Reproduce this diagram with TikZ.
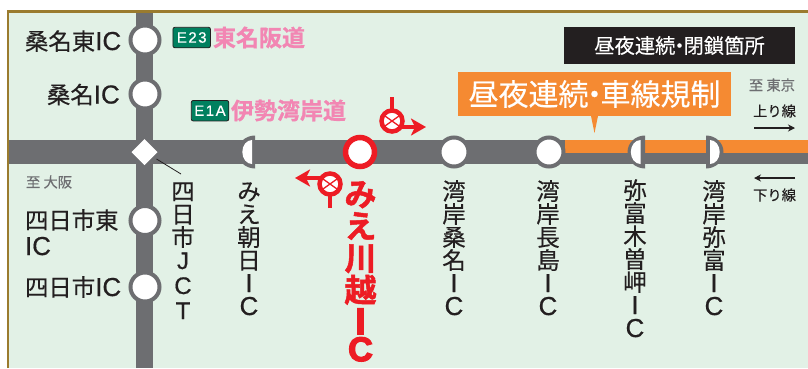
\documentclass[tikz,border=0pt]{standalone}
\usepackage{fontspec}
\setmainfont{Noto Sans CJK JP}[FakeBold=0.3]
\newfontfamily\heavyjp{Noto Sans CJK JP Bold}[FakeBold=1.0]
\newfontfamily\redjp{Noto Sans CJK JP Bold}[FakeBold=1.5]
\newfontfamily\lsans{Liberation Sans}[FakeBold=0.6]
\newfontfamily\lbold{Liberation Sans Bold}[FakeBold=4]
\usetikzlibrary{arrows.meta,shapes.geometric,calc}
\definecolor{bgg}{HTML}{E2F1E6}
\definecolor{frameb}{HTML}{9A7B2E}
\definecolor{roadg}{HTML}{6D6E71}
\definecolor{orng}{HTML}{F58A32}
\definecolor{redc}{HTML}{ED1C24}
\definecolor{pinkt}{HTML}{F286B3}
\definecolor{signg}{HTML}{00805F}
\definecolor{txtk}{HTML}{231F20}
\definecolor{txtg}{HTML}{6D6E71}
\newcommand{\latc}[1]{{\lsans\fontsize{26}{25}\selectfont #1}}
\newcommand{\vlat}[1]{{\lsans\fontsize{26}{23}\selectfont #1}}
\newcommand{\jlat}[1]{{\lsans\fontsize{24}{23}\selectfont #1}}
\newcommand{\rlat}[1]{{\lbold\fontsize{37}{31}\selectfont #1}}
\newcommand{\rlatc}[1]{{\lbold\fontsize{34}{31}\selectfont #1}}
\newcommand{\ndot}{\hspace{-.3em}・\hspace{-.3em}}
\newcommand{\noskip}{\lineskiplimit=-100pt }
\tikzset{
  every node/.style={inner sep=0pt,outer sep=0pt,text=txtk},
  road/.style={line width=24pt,roadg},
  roadv/.style={line width=17pt,roadg},
  ic/.style={circle,fill=white,draw=roadg,line width=4pt,minimum size=29pt},
  iclab/.style={font=\fontsize{23.4}{26}\selectfont\noskip,align=left},
  vlab/.style={anchor=base,align=center,font=\fontsize{23.5}{23}\selectfont\noskip},
  rlab/.style={anchor=base,align=center,text=redc,font=\redjp\fontsize{32}{32}\selectfont\noskip},
  sign/.style={draw=txtk,line width=0.8pt,rounded corners=2pt,fill=signg,text=white,minimum width=37.5pt,minimum height=20.5pt,font=\lsans\fontsize{15}{15}\selectfont},
  pinkl/.style={text=pinkt,font=\heavyjp\fontsize{23}{24}\selectfont,anchor=west},
  small/.style={font=\fontsize{14.3}{15}\selectfont},
  closure/.style={circle,draw=redc,fill=white,line width=4.5pt,minimum size=21pt},
  redline/.style={redc,line width=4pt},
  redhead/.style={redc,line width=3.4pt,-{Stealth[length=15pt,width=17pt,inset=4pt]}},
  crossx/.style={redc,line width=1.3pt},
  dirarrow/.style={txtk,line width=1.4pt,-{Stealth[length=7pt,width=7pt]}},
}
\newcommand{\halfL}[2]{% flat of ring at x=#1, flat of white part at x=#2
  \fill[roadg] (#1,135.5) arc[start angle=-90,end angle=-270,x radius=17.5,y radius=16.5] -- cycle;
  \fill[white] (#2,140) arc[start angle=-90,end angle=-270,x radius=9.7,y radius=12] -- cycle;
}
\newcommand{\halfR}[2]{% flat of ring at x=#1, flat of white part at x=#2
  \fill[roadg] (#1,135.5) arc[start angle=-90,end angle=90,x radius=17.5,y radius=16.5] -- cycle;
  \fill[white] (#2,140) arc[start angle=-90,end angle=90,x radius=9.7,y radius=12] -- cycle;
}
\begin{document}
\begin{tikzpicture}[x=1pt,y=-1pt]
\useasboundingbox (0,0) rectangle (808,368);
\fill[white] (0,0) rectangle (808,368);
\fill[bgg] (8,12) rectangle (808,368);
\draw[frameb,line width=2.6pt] (8,368) -- (8,11.5) -- (808,11.5);
% named road ends
\coordinate (wEnd) at (9,152);
\coordinate (eEnd) at (808,152);
\coordinate (nEnd) at (144.5,13);
\coordinate (sEnd) at (144.5,368);
\draw[road] (wEnd) -- (eEnd);
\draw[roadv] (nEnd) -- (sEnd);
\fill[orng] (565,140) rectangle (808,153);
% closure callout + boxes
\node[fill=orng,minimum width=273pt,minimum height=44pt,anchor=north west,text=white,font=\fontsize{30}{31}\selectfont] (rbox) at (458,72) {昼夜連続\ndot 車線規制};
\fill[orng] (591,116) -- (598,116) -- (594.5,133) -- cycle;
\node[fill=txtk,minimum width=231pt,minimum height=37pt,anchor=north west,text=white,font=\fontsize{20.3}{21}\selectfont] (cbox) at (564,27) {昼夜連続\ndot 閉鎖箇所};
% ICs
\node[ic] (n1) at (145,40) {};
\node[ic] (n2) at (145,94) {};
\node[ic] (n3) at (145,220.5) {};
\node[ic] (n4) at (145,287) {};
\node[diamond,fill=white,minimum width=26pt,minimum height=26pt] (jct) at (144.5,152) {};
\node[ic] (wan1) at (454,152) {};
\node[ic] (wan2) at (549,152) {};
\node[circle,fill=white,draw=redc,line width=5.5pt,minimum size=29pt] (kawa) at (360,152) {};
\halfL{255}{252}
\halfL{645}{640.5}
\halfR{706}{710}
% left labels
\node[iclab,anchor=base west] (l1) at (25,50) {桑名東\latc{IC}};
\node[iclab,anchor=base west] (l2) at (47,103.5) {桑名\latc{IC}};
\node[iclab,anchor=base west] (l3) at (25,255) {四日市東\\\latc{IC}};
\node[iclab,anchor=base west] (l4) at (25,296) {四日市\latc{IC}};
% signs
\node[sign] (e23) at (191.7,37.5) {E\kern1.5pt 2\kern1.5pt 3};
\node[sign] (e1a) at (210,110.7) {E\kern1.5pt 1\kern1.5pt A};
\node[pinkl] (p1) at (213,37.5) {東名阪道};
\node[pinkl] (p2) at (231,110.5) {伊勢湾岸道};
% small labels
\node[small,text=txtg,anchor=west] (to1) at (26,182) {至 大阪};
\node[small,text=txtg,anchor=east] (to2) at (795,85) {至 東京};
\node[small,anchor=east] (up) at (796,111) {上り線};
\node[small,anchor=east] (dn) at (796,195) {下り線};
\coordinate (upA) at (754,128); \coordinate (upB) at (795,128);
\coordinate (dnA) at (795,178); \coordinate (dnB) at (754,178);
\draw[dirarrow] (upA) -- (upB);
\draw[dirarrow] (dnA) -- (dnB);
% vertical labels
\node[vlab] (v1) at (183,319) {四\\日\\市\\\jlat{J}\\[2pt]\jlat{C}\\[2pt]\jlat{T}};
\node[vlab] (v2) at (249,315) {み\\え\\朝\\日\\\vlat{I}\\\vlat{C}};
\node[rlab] (v3) at (360.5,361) {み\\え\\川\\越\\\rlat{I}\\[-5pt]\rlatc{C}};
\node[vlab] (v4) at (454,315) {湾\\岸\\桑\\名\\\vlat{I}\\\vlat{C}};
\node[vlab] (v5) at (548,315) {湾\\岸\\長\\島\\\vlat{I}\\\vlat{C}};
\node[vlab] (v6) at (635,337) {弥\\富\\木\\曽\\岬\\\vlat{I}\\\vlat{C}};
\node[vlab] (v7) at (714,315) {湾\\岸\\弥\\富\\\vlat{I}\\\vlat{C}};
\coordinate (lead) at (181,174);
\draw[txtk,line width=0.8pt] ($(jct.center)+(12,7)$) -- (lead);
% closures
\node[closure] (c1) at (392,121) {};
\coordinate (c1t) at (392,97);
\coordinate (c1a) at (426,127);
\draw[redline] (c1t) -- (c1.north);
\draw[redhead] ($(c1.center)+(10,6)$) -- (c1a);
\draw[crossx] ($(c1.center)+(-7,-5)$) -- ($(c1.center)+(7,5)$) ($(c1.center)+(-7,5)$) -- ($(c1.center)+(7,-5)$);
\node[closure] (c2) at (330,184) {};
\coordinate (c2t) at (330,208);
\coordinate (c2a) at (295,178);
\draw[redline] (c2t) -- (c2.south);
\draw[redhead] ($(c2.center)+(-10,-6)$) -- (c2a);
\draw[crossx] ($(c2.center)+(-7,-5)$) -- ($(c2.center)+(7,5)$) ($(c2.center)+(-7,5)$) -- ($(c2.center)+(7,-5)$);
\end{tikzpicture}
\end{document}
